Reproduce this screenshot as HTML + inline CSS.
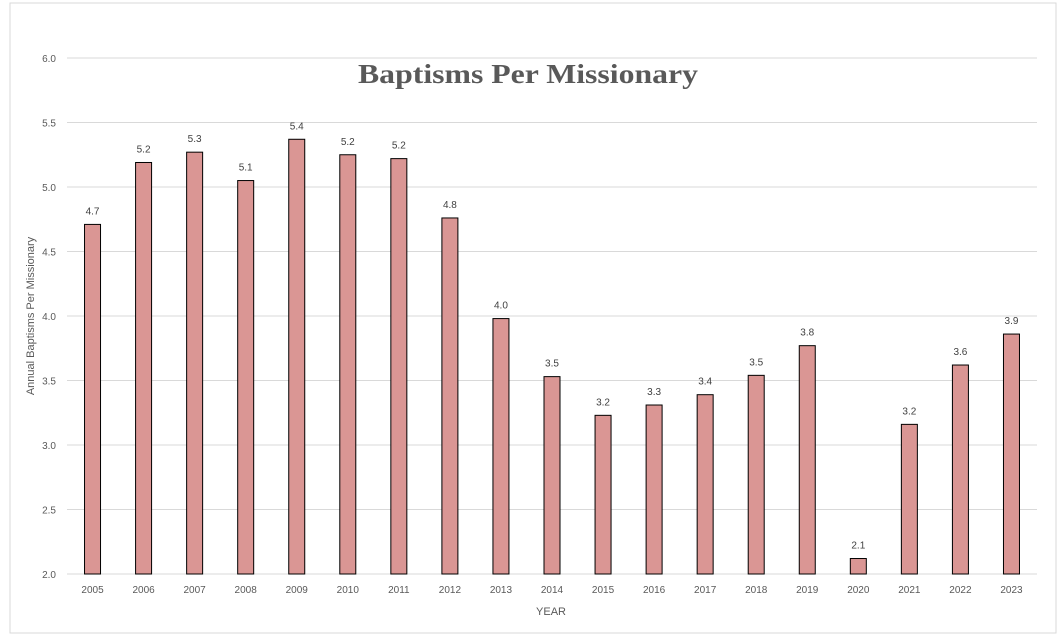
<!DOCTYPE html>
<html><head><meta charset="utf-8"><style>
body{margin:0;background:#fff;width:1061px;height:637px;overflow:hidden;font-family:"Liberation Sans",sans-serif}
svg{display:block}
</style></head><body>
<svg id="c" width="1061" height="637">
<rect x="10" y="3" width="1046" height="630" fill="#fff" stroke="#d9d9d9"/>
<text x="358" y="83" textLength="340" lengthAdjust="spacingAndGlyphs" font-family="Liberation Serif,serif" font-weight="bold" font-size="27" fill="#595959">Baptisms Per Missionary</text>
<text x="551" y="615" text-anchor="middle" font-size="11" fill="#595959">YEAR</text>
<text transform="translate(34,316) rotate(-90)" text-anchor="middle" font-size="11" fill="#595959">Annual Baptisms Per Missionary</text>
<g id="grid"></g><g id="bars"></g>
</svg>
<script>
const categories=["2005","2006","2007","2008","2009","2010","2011","2012","2013","2014","2015","2016","2017","2018","2019","2020","2021","2022","2023"];
const values=[4.71,5.19,5.27,5.05,5.37,5.25,5.22,4.76,3.98,3.53,3.23,3.31,3.39,3.54,3.77,2.12,3.16,3.62,3.86];
const valueLabels=["4.7","5.2","5.3","5.1","5.4","5.2","5.2","4.8","4.0","3.5","3.2","3.3","3.4","3.5","3.8","2.1","3.2","3.6","3.9"];
const yTicks=["2.0","2.5","3.0","3.5","4.0","4.5","5.0","5.5","6.0"];
const NS="http://www.w3.org/2000/svg";
const yMin=2,yMax=6,y0=574,y1=58,xL=67,xR=1037;
const y=v=>y0-(v-yMin)/(yMax-yMin)*(y0-y1);
const step=(xR-xL)/categories.length;
const x=i=>xL+step*(i+0.5);
function mk(t,a,p){const e=document.createElementNS(NS,t);for(const k in a)e.setAttribute(k,a[k]);p.appendChild(e);return e;}
const g=document.getElementById('grid'),b=document.getElementById('bars');
yTicks.forEach(t=>{const v=parseFloat(t);
const l=mk('line',{x1:xL,x2:xR,y1:y(v),y2:y(v),stroke:'#d9d9d9'},g);


const tx=mk('text',{x:56,y:y(v)+4,'text-anchor':'end','font-size':10,fill:'#595959'},g);tx.textContent=t;


});
categories.forEach((c,i)=>{
const r=mk('rect',{x:x(i)-8,y:y(values[i]),width:16,height:y0-y(values[i]),fill:'#da9694',stroke:'#000','stroke-width':1},b);


const lb=mk('text',{x:x(i),y:y(values[i])-10,'text-anchor':'middle','font-size':10,fill:'#404040'},b);lb.textContent=valueLabels[i];


const xt=mk('text',{x:x(i),y:593,'text-anchor':'middle','font-size':10,fill:'#595959'},b);xt.textContent=c;


});
</script>
</body></html>
